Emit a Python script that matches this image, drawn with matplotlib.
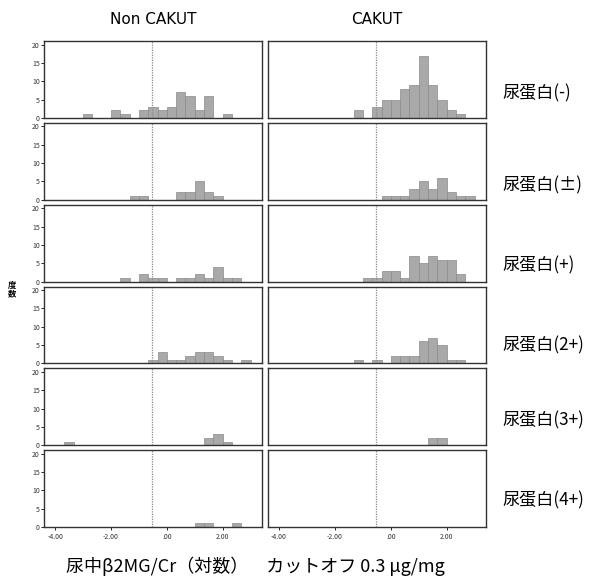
import numpy as np
import matplotlib
matplotlib.use('Agg')
from matplotlib import pyplot as plt

plt.rcParams['font.family'] = ['Noto Sans CJK JP', 'DejaVu Sans']

# histogram bins on log10 scale, width 1/3
bin_edges = np.arange(-13, 10) / 3.0
cutoff = np.log10(0.3)

col_titles = ['Non CAKUT', 'CAKUT']
row_labels = ['尿蛋白(-)', '尿蛋白(±)', '尿蛋白(+)', '尿蛋白(2+)', '尿蛋白(3+)', '尿蛋白(4+)']

non_neg  = [0,0,0,0,1,0,0,2,1,0,2,3,2,3,7,6,2,6,0,1,0,0]
non_pm   = [0,0,0,0,0,0,0,0,0,1,1,0,0,0,2,2,5,2,1,0,0,0]
non_p1   = [0,0,0,0,0,0,0,0,1,0,2,1,1,0,1,1,2,1,4,1,1,0]
non_p2   = [0,0,0,0,0,0,0,0,0,0,0,1,3,1,1,2,3,3,2,1,0,1]
non_p3   = [0,0,1,0,0,0,0,0,0,0,0,0,0,0,0,0,0,2,3,1,0,0]
non_p4   = [0,0,0,0,0,0,0,0,0,0,0,0,0,0,0,0,1,1,0,0,1,0]

cak_neg  = [0,0,0,0,0,0,0,0,0,2,0,3,5,5,8,9,17,9,5,2,1,0]
cak_pm   = [0,0,0,0,0,0,0,0,0,0,0,0,1,1,1,3,5,3,6,2,1,1]
cak_p1   = [0,0,0,0,0,0,0,0,0,0,1,1,3,3,1,7,5,7,6,6,2,0]
cak_p2   = [0,0,0,0,0,0,0,0,0,1,0,1,0,2,2,2,6,7,5,1,1,0]
cak_p3   = [0,0,0,0,0,0,0,0,0,0,0,0,0,0,0,0,0,2,2,0,0,0]
cak_p4   = [0,0,0,0,0,0,0,0,0,0,0,0,0,0,0,0,0,0,0,0,0,0]

non_rows = [non_neg, non_pm, non_p1, non_p2, non_p3, non_p4]
cak_rows = [cak_neg, cak_pm, cak_p1, cak_p2, cak_p3, cak_p4]

xticks = [-4, -2, 0, 2]
xticklabels = ['-4.00', '-2.00', '.00', '2.00']
yticks = [0, 5, 10, 15, 20]

# label heights (pixels from top) as placed in the original
label_px = [93, 185, 265, 345, 420, 500]

fig, axes = plt.subplots(6, 2, figsize=(6.02, 5.85), dpi=100)
fig.subplots_adjust(left=0.073, right=0.807, top=0.930, bottom=0.099,
                    hspace=0.065, wspace=0.028)

widths = np.diff(bin_edges)
for r in range(6):
    for c, data in enumerate([non_rows[r], cak_rows[r]]):
        ax = axes[r, c]
        ax.bar(bin_edges[:-1], data, width=widths, align='edge',
               color='#a9a9a9', edgecolor='#8a8a8a', linewidth=0.5)
        ax.axvline(cutoff, color='#8a8a8a', linestyle=(0, (1, 1)), linewidth=0.9)
        ax.set_xlim(-4.4, 3.4)
        ax.set_ylim(0, 21)
        for s in ax.spines.values():
            s.set_linewidth(1.0)
            s.set_color('#333333')
        if c == 0:
            ax.set_yticks(yticks)
            ax.set_yticklabels([str(v) for v in yticks], fontsize=5, color='#333333')
            ax.tick_params(axis='y', length=2, width=0.6, pad=1)
        else:
            ax.set_yticks([])
        if r == 5:
            ax.set_xticks(xticks)
            ax.set_xticklabels(xticklabels, fontsize=5, color='#333333')
            ax.tick_params(axis='x', length=2, width=0.6, pad=2)
        else:
            ax.set_xticks([])
        if r == 0:
            ax.set_title(col_titles[c], fontsize=11, pad=12,
                         family=['DejaVu Sans'])
    fig.text(502 / 602, 1 - label_px[r] / 585, row_labels[r],
             ha='left', va='center', fontsize=12.3)

fig.text(0.02, 0.505, '度\n数', fontsize=6, fontweight='bold',
         ha='center', va='center', linespacing=0.9)
fig.text(0.11, 0.032, '尿中β2MG/Cr（対数）　カットオフ 0.3 μg/mg',
         fontsize=13, ha='left', va='center')

plt.savefig('out.png', dpi=100)
